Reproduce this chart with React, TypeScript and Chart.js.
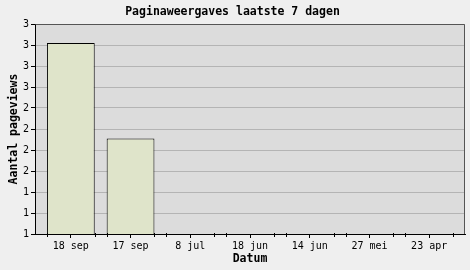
import React, { useEffect, useRef } from "react";
import { Chart, registerables } from "chart.js";

Chart.register(...registerables);

const chartTitle = "Paginaweergaves laatste 7 dagen";
const xTitle = "Datum";
const yTitle = "Aantal pageviews";
const categories = ["18 sep", "17 sep", "8 jul", "18 jun", "14 jun", "27 mei", "23 apr"];
const pageviews = [3, 2, 1, 1, 1, 1, 1];
const yMin = 1;
const yMax = 3.2;
const yTickCount = 11;

const MONO = "'DejaVu Sans Mono', monospace";

const plotDecor = {
  id: "plotDecor",
  beforeDraw(chart: any) {
    const { ctx, chartArea: a } = chart;
    ctx.save();
    ctx.fillStyle = "#dcdcdc";
    ctx.fillRect(a.left, a.top, a.right - a.left, a.bottom - a.top);
    ctx.restore();
  },
  afterDatasetsDraw(chart: any) {
    const { ctx, chartArea: a } = chart;
    ctx.save();
    ctx.strokeStyle = "#555555";
    ctx.lineWidth = 1;
    ctx.beginPath();
    ctx.moveTo(Math.round(a.left) + 0.5, Math.round(a.top) + 0.5);
    ctx.lineTo(Math.round(a.right) - 0.5, Math.round(a.top) + 0.5);
    ctx.lineTo(Math.round(a.right) - 0.5, Math.round(a.bottom));
    ctx.stroke();
    // small marks at bar edges on the x axis
    const meta = chart.getDatasetMeta(0);
    ctx.strokeStyle = "#000000";
    ctx.beginPath();
    meta.data.forEach((bar: any) => {
      const half = bar.width / 2;
      [bar.x - half, bar.x + half].forEach((px: number) => {
        const x = Math.round(px) + 0.5;
        ctx.moveTo(x, Math.round(a.bottom) - 1);
        ctx.lineTo(x, Math.round(a.bottom) + 3);
      });
    });
    ctx.stroke();
    ctx.restore();
  },
};

export default function App() {
  const ref = useRef<HTMLCanvasElement | null>(null);
  useEffect(() => {
    document.body.style.margin = "0";
    document.body.style.background = "#efefef";
    const canvas = ref.current!;
    const chart = new Chart(canvas, {
      type: "bar",
      data: {
        datasets: [
          {
            data: pageviews.map((v, i) => ({ x: i, y: v })),
            backgroundColor: "#dfe4ca",
            borderColor: "#000000",
            borderWidth: 1,
            borderSkipped: false,
            barPercentage: 0.8,
            categoryPercentage: 1,
          },
        ],
      },
      options: {
        animation: false,
        responsive: false,
        devicePixelRatio: 1,
        layout: { padding: { top: 0, left: 0, right: 5, bottom: 0 } },
        plugins: {
          legend: { display: false },
          tooltip: { enabled: false },
          title: {
            display: true,
            text: chartTitle,
            color: "#000",
            font: { family: MONO, size: 11.5, weight: "bold", lineHeight: 1.2 },
            padding: { top: 5, bottom: 5.2 },
          },
        },
        scales: {
          x: {
            type: "linear",
            offset: false,
            min: -0.6,
            max: categories.length - 0.4,
            afterBuildTicks: (scale: any) => {
              scale.ticks = categories.map((_, i) => ({ value: i }));
            },
            afterFit: (scale: any) => {
              scale.height = 36;
            },
            ticks: {
              color: "#000",
              font: { family: MONO, size: 10 },
              padding: 2,
              maxRotation: 0,
              autoSkip: false,
              callback: (v: any) => categories[v] ?? "",
            },
            grid: {
              offset: false,
              drawOnChartArea: false,
              drawTicks: true,
              tickLength: 4,
              tickColor: "#000",
            },
            border: { color: "#000", width: 1 },
            title: {
              display: true,
              text: xTitle,
              color: "#000",
              font: { family: MONO, size: 11.5, weight: "bold", lineHeight: 1.2 },
              padding: { top: 0, bottom: 4 },
            },
          },
          y: {
            type: "linear",
            min: yMin,
            max: yMax,
            afterBuildTicks: (scale: any) => {
              const ticks = [];
              for (let i = 0; i < yTickCount; i++) {
                ticks.push({ value: yMin + ((yMax - yMin) * i) / (yTickCount - 1) });
              }
              scale.ticks = ticks;
            },
            afterFit: (scale: any) => {
              scale.width = 35;
            },
            ticks: {
              color: "#000",
              font: { family: MONO, size: 10 },
              padding: 2,
              autoSkip: false,
              callback: (v: any) => String(Math.round(v)),
            },
            grid: {
              color: "#b4b4b4",
              drawTicks: true,
              tickLength: 4,
              tickColor: "#000",
            },
            border: { color: "#000", width: 1 },
            title: {
              display: true,
              text: yTitle,
              color: "#000",
              font: { family: MONO, size: 11.5, weight: "bold", lineHeight: 1.2 },
              padding: { top: 7, bottom: 0 },
            },
          },
        },
      } as any,
      plugins: [plotDecor],
    });
    return () => chart.destroy();
  }, []);
  return <canvas ref={ref} width={470} height={270} style={{ display: "block" }} />;
}
